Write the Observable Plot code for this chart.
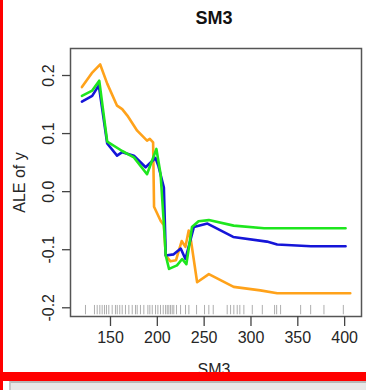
<!DOCTYPE html>
<html>
<head>
<meta charset="utf-8">
<script src="https://cdn.jsdelivr.net/npm/d3@7"></script>
<script src="https://cdn.jsdelivr.net/npm/@observablehq/plot@0.6"></script>
<style>
  html, body { margin: 0; padding: 0; background: #fff; }
  #wrap { position: relative; width: 366px; height: 390px; overflow: hidden; background: #fff; font-family: "Liberation Sans", Arial, sans-serif; }
  #wrap svg { position: absolute; left: 0; top: 0; }
  .redL { position: absolute; left: 0; top: 0; width: 3px; height: 390px; background: #f00; }
  .redB { position: absolute; left: 0; top: 372px; width: 366px; height: 9px; background: #f00; }
  .grayB { position: absolute; left: 9px; top: 381px; width: 357px; height: 9px; background: #e8e8e8; border-top: 2px solid #b8b8b8; border-left: 2px solid #c8c8c8; box-sizing: border-box; }
</style>
</head>
<body>
<div id="wrap"></div>
<script>
const titleText = "SM3";
const xLabel = "SM3";
const yLabel = "ALE of y";
const xTicks = [150, 200, 250, 300, 350, 400];
const yTicks = [-0.2, -0.1, 0.0, 0.1, 0.2];

// orange series
const orangeX = [119.5, 130, 139, 146.5, 157, 162.5, 168, 178.5, 189, 192, 195.5, 196.5, 203.5, 207, 209, 214, 220, 226, 230, 233.5, 236, 242.5, 255, 281.5, 310, 328, 406];
const orangeY = [0.180, 0.204, 0.219, 0.186, 0.148, 0.142, 0.131, 0.105, 0.088, 0.091, 0.085, -0.026, -0.050, -0.058, -0.110, -0.120, -0.118, -0.085, -0.095, -0.067, -0.085, -0.156, -0.142, -0.164, -0.170, -0.175, -0.175];
// blue series
const blueX = [119.5, 130.5, 137.5, 146.5, 157, 162.5, 175, 187.5, 198, 201, 207, 209, 217.5, 225, 230, 239, 253.5, 281, 317, 328, 364, 401];
const blueY = [0.155, 0.165, 0.183, 0.083, 0.062, 0.068, 0.062, 0.042, 0.058, 0.045, 0.007, -0.110, -0.108, -0.098, -0.116, -0.061, -0.055, -0.078, -0.086, -0.091, -0.094, -0.094];
// green series
const greenX = [119.5, 130.5, 138, 146.5, 162.5, 175, 189, 199, 203.5, 207, 209, 212.5, 221, 226.5, 231, 237, 244, 255, 281.5, 314, 401];
const greenY = [0.165, 0.174, 0.191, 0.086, 0.070, 0.059, 0.030, 0.0735, 0.030, -0.056, -0.110, -0.133, -0.127, -0.116, -0.125, -0.061, -0.051, -0.049, -0.0585, -0.063, -0.063];
// rug (observed SM3 values)
const rugX = [123.3, 132.9, 135.8, 138.6, 141.1, 143.6, 145.7, 148.2, 151.8, 155.3, 157.2, 159.9, 162.5, 166, 169.6, 173.2, 176.7, 178.5, 182, 185.6, 189.9, 192, 194.6, 198.1, 200.6, 203.4, 206.3, 208.8, 210.6, 212.3, 214.1, 215.9, 217.6, 220.5, 224.8, 230.1, 233.7, 241.9, 250.4, 255, 259.7, 274.6, 278.2, 281.7, 285.3, 288.1, 292.4, 301.4, 312.1, 325.2, 327.4, 331.6, 353, 363.7, 377.9, 398.6];

const series = [
  {name: "orange", xs: orangeX, ys: orangeY, color: "#FFA21A"},
  {name: "blue", xs: blueX, ys: blueY, color: "#1515D8"},
  {name: "green", xs: greenX, ys: greenY, color: "#1EE61E"}
];
const lineData = series.flatMap(s => s.xs.map((x, i) => ({series: s.name, x, y: s.ys[i], color: s.color})));

const fmt = d => d.toFixed(1);
const textColor = "#262626";

const chart = Plot.plot({
  width: 366,
  height: 372,
  marginLeft: 70,
  marginRight: 5,
  marginTop: 48,
  marginBottom: 56,
  style: {fontFamily: "'Liberation Sans', Arial, sans-serif", color: textColor, background: "transparent"},
  x: {domain: [107.3, 418], axis: null},
  y: {domain: [-0.215, 0.2465], axis: null},
  marks: [
    Plot.ruleX(rugX, {x: d => d, y1: -0.212, y2: -0.196, stroke: "#9a9a9a", strokeWidth: 1, strokeOpacity: 0.8}),
    ...series.map(s => Plot.line(lineData.filter(d => d.series === s.name), {x: "x", y: "y", stroke: s.color, strokeWidth: 2.6, strokeLinejoin: "round"})),
    Plot.frame({stroke: "#555", strokeWidth: 1.5}),
    Plot.axisX(xTicks, {anchor: "bottom", tickSize: 10, tickPadding: 5, fontSize: 16, tickFormat: d => String(d), label: null, stroke: "#444", strokeWidth: 1.3, fill: textColor}),
    Plot.axisY(yTicks, {anchor: "left", tickSize: 8, tickFormat: () => "", label: null, stroke: "#444", strokeWidth: 1.3}),
    Plot.text(yTicks, {y: d => d, text: d => fmt(d), frameAnchor: "left", dx: -22, rotate: -90, textAnchor: "middle", lineAnchor: "middle", fontSize: 16, fill: textColor}),
    Plot.text([yLabel], {text: d => d, frameAnchor: "left", dx: -51, rotate: -90, textAnchor: "middle", lineAnchor: "middle", fontSize: 16, fill: textColor}),
    Plot.text([titleText], {text: d => d, frameAnchor: "top", dx: -2, dy: -30, lineAnchor: "middle", fontSize: 18, fontWeight: "bold", fill: "#111"}),
    Plot.text([xLabel], {text: d => d, frameAnchor: "bottom", dx: -2, dy: 53, lineAnchor: "middle", fontSize: 16, fill: textColor})
  ]
});

const wrap = document.getElementById("wrap");
wrap.appendChild(chart);
["redL", "redB", "grayB"].forEach(c => { const d = document.createElement("div"); d.className = c; wrap.appendChild(d); });
</script>
</body>
</html>
